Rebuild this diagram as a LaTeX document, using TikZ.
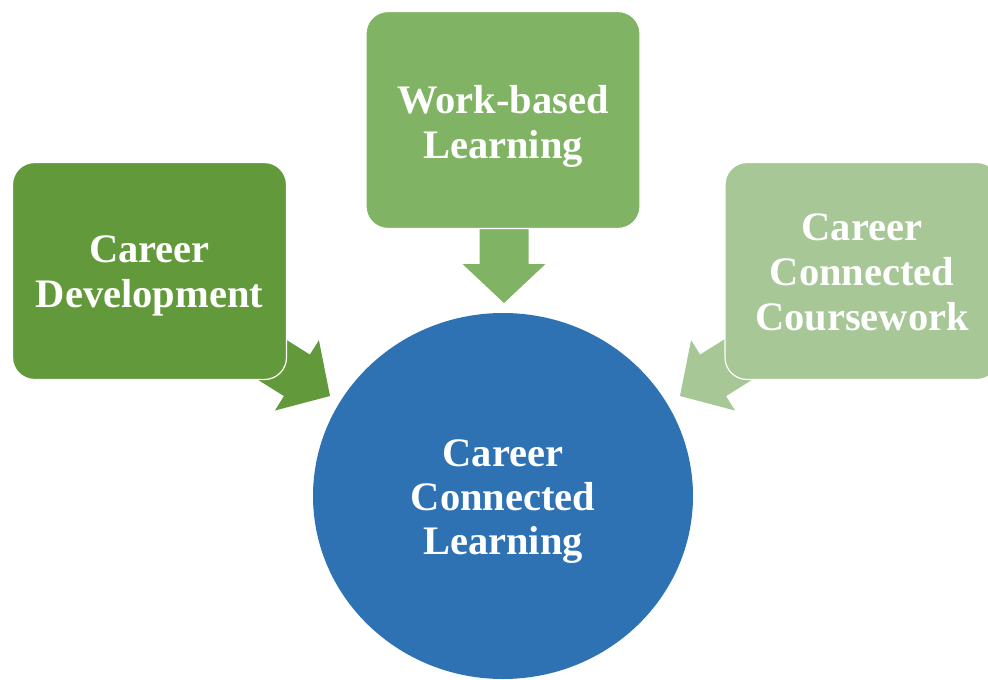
\documentclass[tikz,border=0pt]{standalone}
\usepackage{fontspec}
\setmainfont{Liberation Serif}
\usetikzlibrary{shapes.geometric}
\definecolor{gdark}{HTML}{62993A}
\definecolor{gmid}{HTML}{80B464}
\definecolor{glight}{HTML}{A7C797}
\definecolor{cblue}{HTML}{2E72B4}
\tikzset{
  boxnode/.style={rectangle, rounded corners=22pt, draw=white, line width=1.2pt,
    minimum width=274pt, minimum height=217pt, inner sep=0pt},
  circnode/.style={ellipse, fill=cblue, minimum width=380pt, minimum height=366pt,
    inner sep=0pt},
  labeltext/.style={text=white, align=center, inner sep=0pt,
    font=\bfseries\fontsize{40.5}{45}\selectfont}
}
\newcommand{\blockarrowshape}{(-130,-24.5) -- (-39,-24.5) -- (-39,-41.5) -- (0,0) -- (-39,41.5) -- (-39,24.5) -- (-130,24.5) -- cycle}
\begin{document}
\begin{tikzpicture}[x=1pt,y=-1pt]
\useasboundingbox (0,0) rectangle (988,680);
% arrow tips
\coordinate (tipL) at (330,396);
\coordinate (tipT) at (504,303);
\coordinate (tipR) at (680,396);
% block arrows (behind boxes)
\begin{scope}[shift={(tipL)}, rotate=-32]
  \fill[gdark] \blockarrowshape;
\end{scope}
\begin{scope}[shift={(tipT)}, rotate=-90]
  \fill[gmid] \blockarrowshape;
\end{scope}
\begin{scope}[shift={(tipR)}, rotate=-148]
  \fill[glight] \blockarrowshape;
\end{scope}
% boxes
\node[boxnode, fill=gdark] (cd) at (149.5,271) {};
\node[boxnode, fill=gmid] (wbl) at (503,120) {};
\node[boxnode, fill=glight] (ccc) at (862,271) {};
% circle
\node[circnode] (ccl) at (503,496) {};
% texts
\node[labeltext] (cdt) at ([yshift=-5pt]cd.center) {Career\\Development};
\node[labeltext] (wblt) at ([yshift=-6pt]wbl.center) {Work-based\\Learning};
\node[labeltext] (ccct) at ([yshift=-1pt]ccc.center) {Career\\Connected\\Coursework};
\node[labeltext, font=\bfseries\fontsize{40.5}{44}\selectfont] (cclt) at ([yshift=-6pt]ccl.center) {Career\\Connected\\Learning};
\end{tikzpicture}
\end{document}
